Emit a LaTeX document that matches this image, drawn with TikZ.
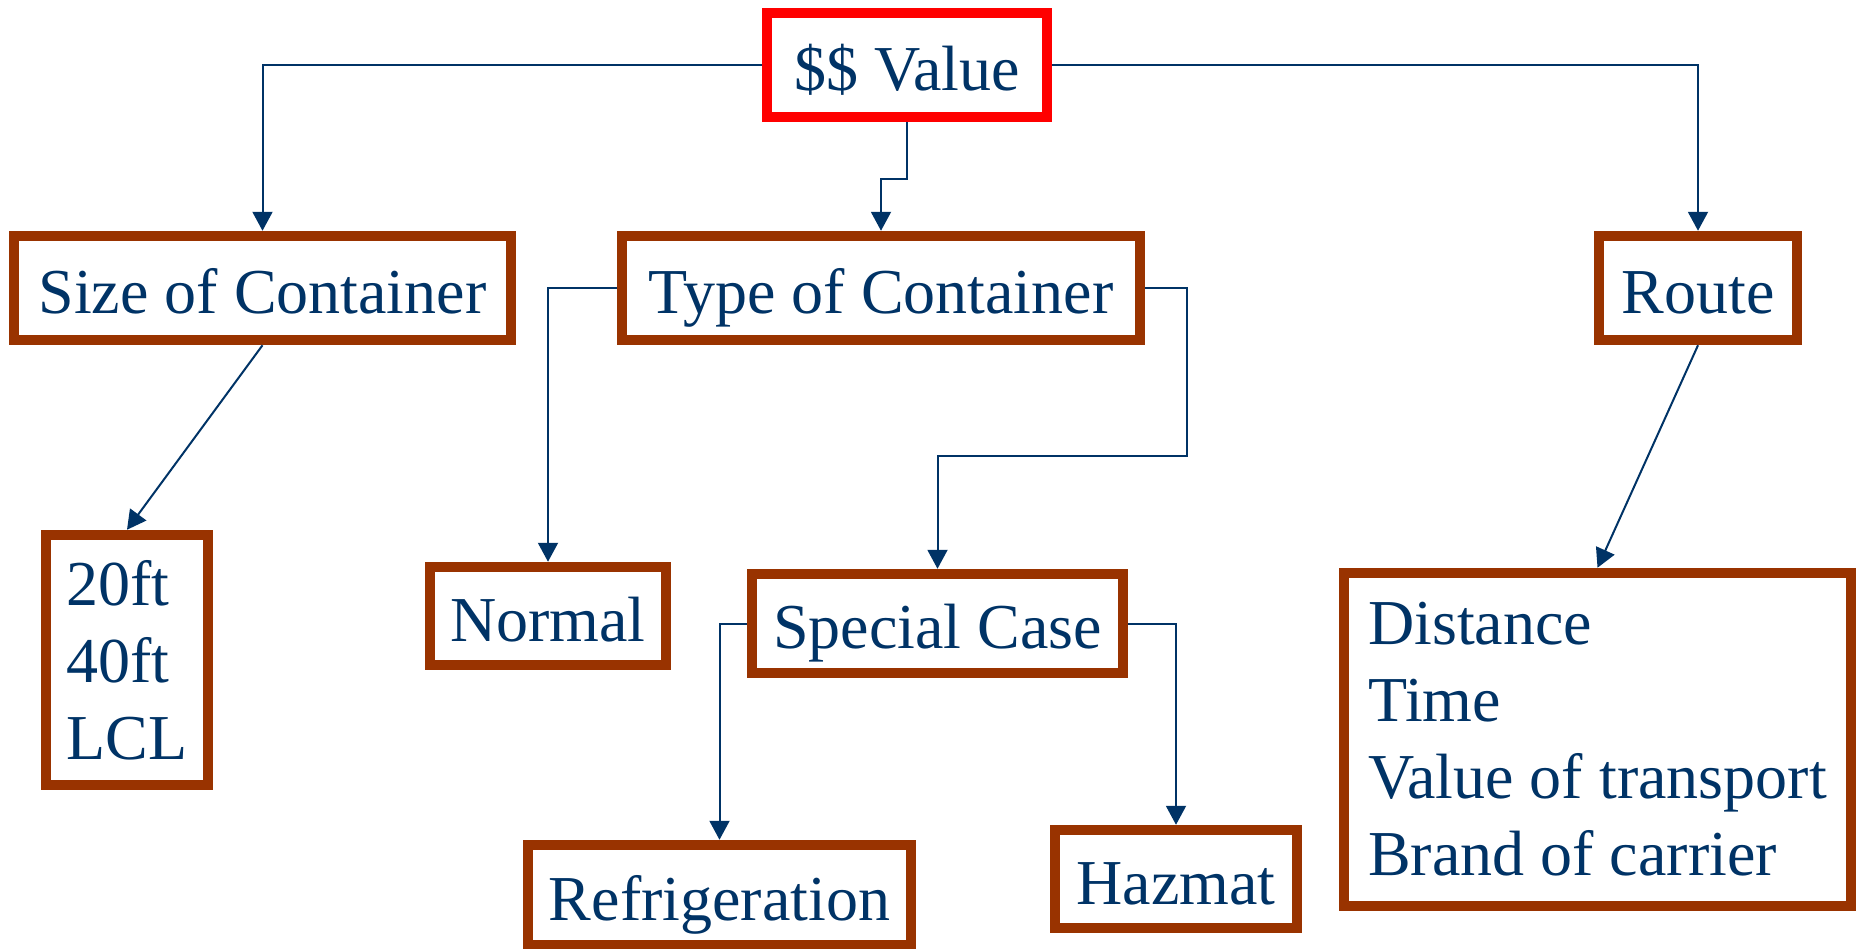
\documentclass[tikz,border=0pt]{standalone}
\usepackage{fontspec}
\setmainfont{Liberation Serif}
\usetikzlibrary{arrows.meta}
\definecolor{navy}{HTML}{003366}
\definecolor{boxbrown}{HTML}{993300}
\definecolor{boxred}{HTML}{FF0000}
\begin{document}
\begin{tikzpicture}[x=1pt,y=-1pt,
  every node/.style={font=\fontsize{64}{77}\selectfont, text=navy},
  onebox/.style={draw=boxbrown, line width=10.5pt, fill=white, inner sep=0pt,
    text height=60pt, text depth=10pt},
  listbox/.style={draw=boxbrown, line width=10.5pt, fill=white, align=left, inner sep=0pt},
  conn/.style={draw=navy, line width=2pt, -{Triangle[length=19pt,width=20pt]}}]
\useasboundingbox (0,0) rectangle (1858,948);
% nodes
\node[onebox, draw=boxred, minimum width=280pt, minimum height=104pt] (val) at (907,65) {\$\$ Value};
\node[onebox, minimum width=497pt, minimum height=104pt] (size) at (262.5,288) {Size of Container};
\node[onebox, minimum width=518pt, minimum height=104pt] (type) at (881,288) {Type of Container};
\node[onebox, minimum width=198pt, minimum height=104pt] (route) at (1698,288) {Route};
\node[listbox, minimum width=162pt, minimum height=250pt] (ft) at (127,660) {20ft\\40ft\\LCL};
\node[onebox, minimum width=236pt, minimum height=98pt] (normal) at (548,616) {Normal};
\node[onebox, minimum width=371pt, minimum height=99pt] (special) at (937.5,623.5) {Special Case};
\node[onebox, minimum width=383pt, minimum height=100pt] (refrig) at (719.5,895) {Refrigeration};
\node[onebox, minimum width=242pt, minimum height=98pt] (hazmat) at (1176,879) {Hazmat};
\node[listbox, minimum width=507pt, minimum height=333pt] (list) at (1597.5,739.5) {Distance\\Time\\Value of transport\\Brand of carrier};
% junctions
\coordinate (j1) at (907,179);
\coordinate (j2) at (1187,456);
% connectors
\draw[conn] (val.west) -| (size.north);
\draw[conn] (val.east) -| (route.north);
\draw[conn] (val.south) -- (j1) -| (type.north);
\draw[conn] (size.south) -- (ft.north);
\draw[conn] (route.south) -- (list.north);
\draw[conn] (type.west) -| (normal.north);
\draw[conn] (type.east) -| (j2) -| (special.north);
\draw[conn] (special.west) -| (refrig.north);
\draw[conn] (special.east) -| (hazmat.north);
\end{tikzpicture}
\end{document}
